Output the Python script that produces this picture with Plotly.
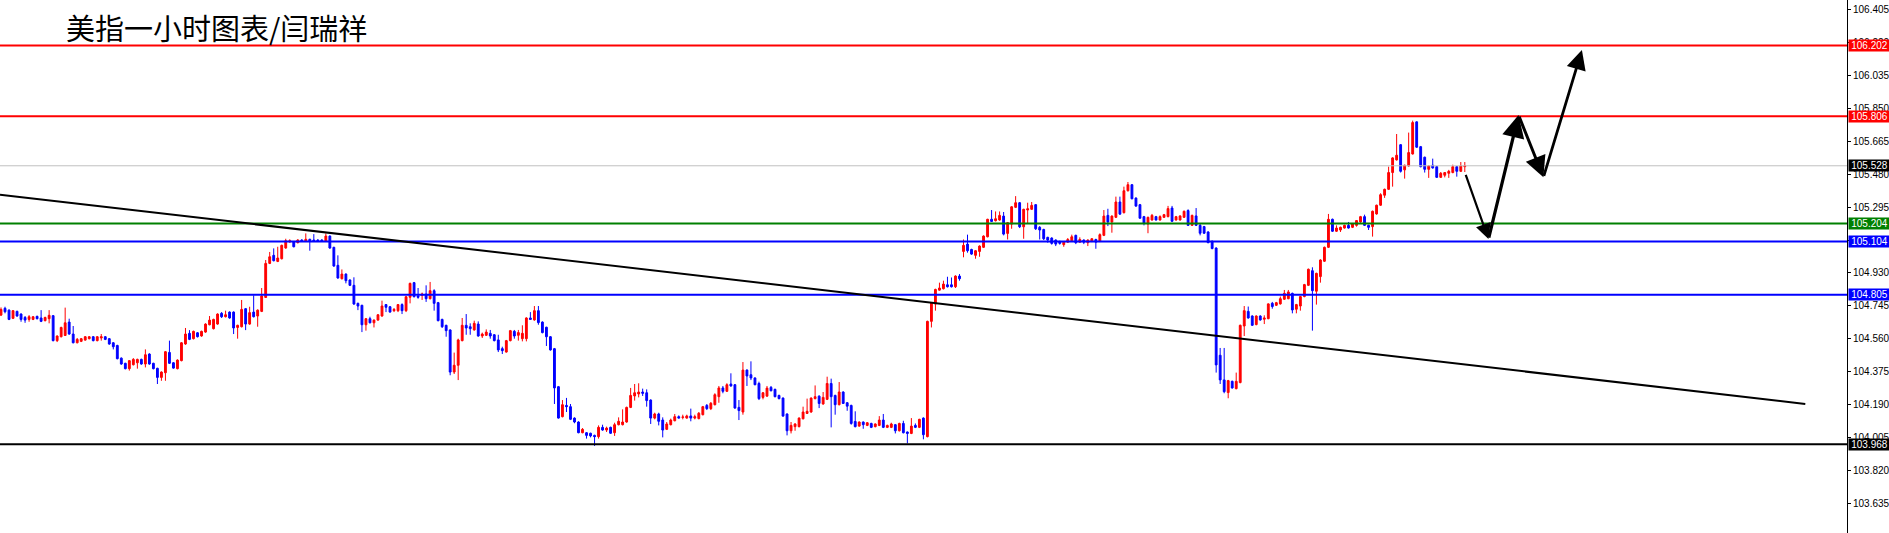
import plotly.graph_objects as go

opens = [104.691,104.729,104.719,104.673,104.712,104.697,104.678,104.667,104.667,104.684,104.675,104.660,104.671,104.688,104.548,104.570,104.577,104.652,104.585,104.536,
104.544,104.551,104.559,104.570,104.548,104.563,104.570,104.559,104.536,104.521,104.450,104.421,104.391,104.413,104.424,104.443,104.417,104.473,104.421,104.393,
104.342,104.368,104.482,104.424,104.391,104.436,104.529,104.589,104.559,104.592,104.574,104.596,104.637,104.615,104.641,104.701,104.682,104.708,104.708,104.622,
104.626,104.727,104.641,104.708,104.686,104.712,104.790,104.981,105.026,104.992,105.007,105.067,105.101,105.101,105.097,105.112,105.104,105.116,105.112,105.112,
105.112,105.104,105.134,105.071,104.970,104.895,104.921,104.888,104.858,104.757,104.746,104.637,104.671,104.648,104.663,104.686,104.750,104.738,104.716,104.716,
104.750,104.716,104.791,104.873,104.798,104.802,104.809,104.783,104.828,104.761,104.667,104.634,104.608,104.372,104.410,104.548,104.634,104.626,104.608,104.641,
104.574,104.578,104.589,104.581,104.552,104.503,104.484,104.548,104.600,104.578,104.559,104.559,104.675,104.664,104.716,104.652,104.623,104.570,104.503,104.290,
104.122,104.185,104.178,104.114,104.092,104.032,104.032,104.029,104.017,104.010,104.062,104.047,104.062,104.032,104.077,104.077,104.092,104.174,104.238,104.249,
104.260,104.256,104.215,104.114,104.137,104.103,104.051,104.077,104.099,104.122,104.118,104.114,104.126,104.114,104.111,104.133,104.185,104.167,104.189,104.234,
104.283,104.264,104.305,104.301,104.174,104.148,104.383,104.357,104.339,104.308,104.230,104.237,104.286,104.275,104.241,104.226,104.137,104.043,104.066,104.066,
104.110,104.140,104.148,104.223,104.237,104.193,104.219,104.308,104.241,104.189,104.260,104.200,104.185,104.095,104.069,104.092,104.073,104.084,104.066,104.073,
104.103,104.062,104.062,104.077,104.043,104.084,104.036,104.028,104.073,104.062,104.114,104.010,104.656,104.753,104.831,104.839,104.861,104.861,104.850,104.910,
105.048,105.089,105.059,105.026,105.048,105.071,105.130,105.228,105.220,105.224,105.246,105.149,105.201,105.295,105.321,105.186,105.280,105.284,105.310,105.183,
105.171,105.127,105.123,105.112,105.104,105.086,105.100,105.108,105.138,105.100,105.112,105.097,105.104,105.115,105.104,105.138,105.250,105.213,105.239,105.325,
105.265,105.388,105.422,105.347,105.310,105.243,105.202,105.224,105.243,105.224,105.239,105.243,105.291,105.224,105.224,105.239,105.277,105.194,105.247,105.194,
105.187,105.157,105.105,105.067,104.466,104.328,104.257,104.320,104.279,104.313,104.630,104.712,104.686,104.638,104.686,104.668,104.671,104.757,104.746,104.754,
104.780,104.783,104.813,104.724,104.742,104.795,104.858,104.940,104.825,104.907,104.993,105.071,105.228,105.161,105.168,105.179,105.194,105.183,105.194,105.213,
105.243,105.194,105.187,105.258,105.307,105.363,105.396,105.490,105.561,105.646,105.505,105.527,105.594,105.774,105.635,105.576,105.508,105.531,105.523,105.463,
105.475,105.486,105.490,105.523,105.497,105.523]

highs = [104.734,104.738,104.723,104.719,104.716,104.701,104.686,104.691,104.686,104.688,104.719,104.682,104.719,104.691,104.577,104.626,104.733,104.671,104.630,104.563,
104.563,104.574,104.574,104.574,104.574,104.585,104.574,104.563,104.540,104.525,104.454,104.424,104.439,104.450,104.447,104.447,104.499,104.477,104.424,104.396,
104.376,104.490,104.548,104.428,104.443,104.540,104.619,104.607,104.604,104.596,104.604,104.645,104.686,104.671,104.701,104.708,104.716,104.712,104.712,104.637,
104.776,104.731,104.738,104.802,104.723,104.843,105.000,105.045,105.065,105.074,105.086,105.119,105.116,105.104,105.116,105.116,105.149,105.119,105.145,105.116,
105.116,105.149,105.138,105.074,105.026,104.947,104.925,104.891,104.903,104.761,104.749,104.675,104.682,104.667,104.697,104.772,104.753,104.742,104.731,104.753,
104.757,104.798,104.873,104.877,104.843,104.817,104.858,104.877,104.836,104.765,104.671,104.637,104.611,104.481,104.559,104.675,104.697,104.645,104.660,104.656,
104.593,104.611,104.608,104.585,104.581,104.514,104.552,104.608,104.608,104.608,104.634,104.679,104.708,104.742,104.742,104.656,104.626,104.574,104.507,104.294,
104.215,104.227,104.193,104.118,104.096,104.058,104.036,104.032,104.021,104.073,104.077,104.066,104.066,104.088,104.118,104.163,104.178,104.283,104.305,104.309,
104.279,104.275,104.219,104.144,104.144,104.118,104.092,104.111,104.137,104.129,104.133,104.133,104.167,104.133,104.148,104.182,104.193,104.204,104.253,104.294,
104.294,104.309,104.365,104.305,104.215,104.428,104.387,104.432,104.342,104.318,104.260,104.294,104.294,104.279,104.245,104.230,104.140,104.092,104.085,104.118,
104.178,104.223,104.230,104.297,104.241,104.260,104.346,104.335,104.245,104.316,104.264,104.204,104.189,104.152,104.095,104.095,104.092,104.088,104.084,104.125,
104.137,104.077,104.088,104.081,104.088,104.099,104.039,104.114,104.084,104.110,104.118,104.660,104.764,104.839,104.873,104.884,104.906,104.902,104.914,104.921,
105.115,105.142,105.063,105.056,105.082,105.138,105.231,105.280,105.272,105.272,105.269,105.213,105.302,105.358,105.325,105.287,105.321,105.325,105.313,105.190,
105.175,105.130,105.127,105.115,105.108,105.104,105.123,105.142,105.142,105.127,105.115,105.115,105.123,105.119,105.149,105.280,105.287,105.250,105.355,105.355,
105.411,105.437,105.425,105.351,105.314,105.247,105.243,105.258,105.247,105.250,105.258,105.303,105.303,105.247,105.250,105.277,105.284,105.254,105.291,105.202,
105.191,105.161,105.109,105.071,104.507,104.507,104.328,104.324,104.369,104.638,104.742,104.739,104.690,104.690,104.690,104.690,104.757,104.765,104.765,104.795,
104.832,104.832,104.817,104.754,104.798,104.866,104.952,104.959,104.929,105.004,105.075,105.258,105.232,105.194,105.187,105.198,105.213,105.206,105.224,105.247,
105.254,105.198,105.277,105.310,105.374,105.400,105.523,105.576,105.706,105.650,105.534,105.714,105.781,105.777,105.639,105.579,105.531,105.568,105.527,105.493,
105.493,105.505,105.534,105.527,105.549,105.549]

lows = [104.686,104.701,104.663,104.669,104.682,104.654,104.648,104.654,104.663,104.667,104.652,104.656,104.645,104.544,104.540,104.566,104.574,104.581,104.533,104.533,
104.540,104.548,104.555,104.544,104.544,104.548,104.551,104.525,104.499,104.443,104.413,104.387,104.380,104.409,104.391,104.413,104.398,104.413,104.387,104.305,
104.323,104.323,104.417,104.391,104.387,104.432,104.525,104.551,104.555,104.566,104.570,104.592,104.634,104.611,104.637,104.675,104.678,104.671,104.585,104.559,
104.622,104.607,104.637,104.678,104.626,104.708,104.787,104.977,104.992,104.988,105.003,105.063,105.097,105.071,105.093,105.101,105.101,105.052,105.101,105.101,
105.101,105.101,105.063,104.962,104.895,104.891,104.869,104.854,104.749,104.719,104.596,104.604,104.645,104.622,104.660,104.682,104.708,104.705,104.708,104.708,
104.697,104.708,104.757,104.791,104.783,104.776,104.765,104.779,104.716,104.656,104.619,104.570,104.354,104.361,104.327,104.544,104.581,104.581,104.604,104.570,
104.563,104.574,104.559,104.544,104.484,104.473,104.481,104.544,104.559,104.548,104.544,104.544,104.664,104.660,104.637,104.589,104.518,104.492,104.193,104.111,
104.118,104.148,104.103,104.085,104.029,104.029,103.999,104.006,103.958,103.999,104.043,104.036,104.025,104.014,104.073,104.073,104.088,104.170,104.212,104.230,
104.238,104.178,104.081,104.107,104.073,104.006,104.047,104.073,104.096,104.111,104.107,104.111,104.096,104.107,104.107,104.129,104.159,104.159,104.185,104.200,
104.253,104.260,104.290,104.167,104.103,104.133,104.294,104.327,104.298,104.215,104.219,104.234,104.264,104.230,104.219,104.122,104.017,104.028,104.043,104.062,
104.107,104.137,104.144,104.219,104.170,104.189,104.215,104.062,104.133,104.185,104.193,104.155,104.077,104.062,104.066,104.054,104.069,104.058,104.062,104.069,
104.058,104.058,104.058,104.028,104.039,104.028,103.972,104.024,104.058,104.058,103.995,104.006,104.622,104.716,104.828,104.835,104.846,104.846,104.843,104.884,
105.015,105.041,105.029,105.007,105.018,105.067,105.127,105.213,105.216,105.220,105.138,105.115,105.175,105.291,105.179,105.119,105.205,105.280,105.168,105.115,
105.112,105.097,105.086,105.078,105.086,105.074,105.097,105.104,105.089,105.097,105.089,105.078,105.100,105.063,105.100,105.134,105.190,105.153,105.235,105.254,
105.261,105.384,105.340,105.298,105.232,105.194,105.150,105.221,105.221,105.221,105.236,105.239,105.213,105.221,105.221,105.236,105.191,105.191,105.191,105.138,
105.146,105.094,105.060,104.369,104.305,104.253,104.225,104.279,104.275,104.309,104.574,104.671,104.630,104.634,104.660,104.641,104.668,104.727,104.742,104.750,
104.776,104.780,104.701,104.701,104.716,104.791,104.854,104.604,104.750,104.873,104.989,105.067,105.157,105.157,105.157,105.176,105.176,105.179,105.187,105.209,
105.191,105.168,105.131,105.254,105.303,105.348,105.392,105.411,105.557,105.490,105.456,105.523,105.591,105.628,105.519,105.490,105.460,105.512,105.460,105.460,
105.463,105.460,105.486,105.467,105.493,105.493]

closes = [104.723,104.710,104.667,104.716,104.686,104.667,104.663,104.682,104.682,104.671,104.656,104.678,104.690,104.548,104.574,104.622,104.648,104.585,104.536,104.555,
104.559,104.570,104.570,104.548,104.570,104.570,104.555,104.529,104.514,104.447,104.417,104.391,104.436,104.443,104.443,104.417,104.469,104.417,104.391,104.342,
104.372,104.486,104.421,104.394,104.439,104.536,104.585,104.555,104.600,104.570,104.600,104.641,104.663,104.667,104.697,104.682,104.693,104.675,104.619,104.634,
104.723,104.641,104.705,104.682,104.719,104.798,104.981,105.018,104.996,105.011,105.082,105.108,105.108,105.074,105.112,105.104,105.116,105.104,105.104,105.104,
105.104,105.134,105.067,104.966,104.899,104.921,104.884,104.858,104.753,104.742,104.637,104.671,104.648,104.663,104.693,104.742,104.735,104.708,104.723,104.750,
104.716,104.794,104.869,104.794,104.791,104.809,104.783,104.828,104.757,104.660,104.626,104.604,104.372,104.410,104.552,104.634,104.619,104.615,104.645,104.574,
104.585,104.596,104.574,104.548,104.496,104.492,104.548,104.604,104.574,104.593,104.589,104.675,104.667,104.716,104.649,104.593,104.570,104.496,104.283,104.114,
104.189,104.178,104.107,104.092,104.032,104.051,104.017,104.014,104.010,104.062,104.047,104.058,104.029,104.077,104.096,104.092,104.174,104.241,104.256,104.260,
104.253,104.212,104.114,104.137,104.096,104.047,104.081,104.103,104.122,104.114,104.120,104.126,104.114,104.122,104.141,104.178,104.167,104.197,104.245,104.283,
104.264,104.301,104.294,104.170,104.156,104.383,104.350,104.339,104.301,104.223,104.256,104.282,104.267,104.234,104.223,104.125,104.043,104.073,104.081,104.114,
104.148,104.152,104.226,104.234,104.196,104.230,104.308,104.234,104.189,104.260,104.196,104.181,104.084,104.066,104.092,104.077,104.088,104.062,104.081,104.103,
104.062,104.073,104.081,104.043,104.084,104.032,104.028,104.069,104.062,104.107,104.021,104.656,104.761,104.835,104.843,104.865,104.850,104.850,104.910,104.895,
105.082,105.052,105.033,105.052,105.078,105.134,105.228,105.216,105.231,105.250,105.145,105.209,105.298,105.321,105.186,105.284,105.287,105.306,105.175,105.168,
105.119,105.112,105.093,105.089,105.093,105.100,105.115,105.130,105.097,105.115,105.100,105.112,105.119,105.100,105.142,105.246,105.213,105.246,105.325,105.257,
105.388,105.422,105.343,105.302,105.234,105.206,105.239,105.250,105.224,105.243,105.254,105.288,105.217,105.243,105.247,105.273,105.194,105.250,105.194,105.150,
105.150,105.097,105.064,104.412,104.328,104.262,104.324,104.283,104.320,104.634,104.716,104.675,104.634,104.686,104.664,104.675,104.754,104.739,104.761,104.783,
104.813,104.821,104.720,104.750,104.795,104.862,104.948,104.828,104.925,105.000,105.071,105.228,105.161,105.179,105.183,105.194,105.179,105.202,105.221,105.243,
105.194,105.183,105.273,105.307,105.366,105.396,105.490,105.572,105.587,105.497,105.531,105.602,105.770,105.632,105.523,105.508,105.527,105.516,105.463,105.486,
105.490,105.497,105.523,105.497,105.527,105.527]

# horizontal levels drawn on the chart
level_values = [106.202, 105.806, 105.204, 105.104, 104.805, 103.968]
level_colors = ["#FF0000", "#FF0000", "#008000", "#0000FF", "#0000FF", "#000000"]
bid_price = 105.528

# descending trend line (bar index, price)
trend_x = [-0.25, 449.9]
trend_y = [105.366, 104.193]

# projected path arrows (bar index, price)
arrow_x = [365.1, 370.9, 378.4, 384.6, 394.2]
arrow_y = [105.486, 105.117, 105.812, 105.463, 106.177]
arrow_widths = [2.2, 3.2, 3, 2.8]

# right axis ticks
tick_vals = [106.405, 106.220, 106.035, 105.850, 105.665, 105.480, 105.295, 105.110,
             104.930, 104.745, 104.560, 104.375, 104.190, 104.005, 103.820, 103.635]
tick_text = ["106.405", "106.220", "106.035", "105.850", "105.665", "105.480", "105.295", "105.110",
             "104.930", "104.745", "104.560", "104.375", "104.190", "104.005", "103.820", "103.635"]

title_text = "美指一小时图表/闫瑞祥"

bars = list(range(len(closes)))

fig = go.Figure()
fig.add_trace(go.Candlestick(
    x=bars, open=opens, high=highs, low=lows, close=closes,
    increasing=dict(line=dict(color="#FF0000", width=1), fillcolor="#FF0000"),
    decreasing=dict(line=dict(color="#0000FF", width=1), fillcolor="#0000FF"),
    whiskerwidth=0, showlegend=False, hoverinfo="skip",
))

shapes = []
# bid line
shapes.append(dict(type="line", xref="paper", x0=0, x1=1, yref="y", y0=bid_price, y1=bid_price,
                   line=dict(color="#C0C0C0", width=1), layer="above"))
for v, c in zip(level_values, level_colors):
    shapes.append(dict(type="line", xref="paper", x0=0, x1=1, yref="y", y0=v, y1=v,
                       line=dict(color=c, width=2), layer="above"))
shapes.append(dict(type="line", xref="x", yref="y", x0=trend_x[0], y0=trend_y[0], x1=trend_x[1], y1=trend_y[1],
                   line=dict(color="#000000", width=2), layer="above"))

annotations = []
annotations.append(dict(text=title_text, xref="paper", yref="paper", x=64/1847, y=1 - 27/533,
                        xanchor="left", yanchor="middle", showarrow=False,
                        font=dict(family="Noto Sans CJK SC", size=29, color="#000000")))

label_vals = level_values + [bid_price]
label_cols = level_colors + ["#000000"]
for v, c in zip(label_vals, label_cols):
    annotations.append(dict(text="%.3f" % v, xref="paper", yref="y", x=1, y=v, xanchor="left", yanchor="middle",
                            xshift=1, showarrow=False, bgcolor=c, borderpad=0, width=41, height=11,
                            font=dict(family="Liberation Sans", size=10, color="#FFFFFF")))

for k in range(len(arrow_x) - 1):
    annotations.append(dict(text="", x=arrow_x[k+1], y=arrow_y[k+1], ax=arrow_x[k], ay=arrow_y[k],
                            xref="x", yref="y", axref="x", ayref="y", showarrow=True,
                            arrowhead=2, arrowsize=1.4, arrowwidth=arrow_widths[k], arrowcolor="#000000",
                            standoff=0, startstandoff=0))

fig.update_layout(
    width=1889, height=533,
    margin=dict(l=0, r=42, t=0, b=0),
    paper_bgcolor="#FFFFFF", plot_bgcolor="#FFFFFF",
    shapes=shapes, annotations=annotations,
    boxgap=0.35,
    xaxis=dict(range=[-0.25, 460.3], showgrid=False, zeroline=False, showticklabels=False,
               showline=False, ticks="", rangeslider=dict(visible=False), fixedrange=True),
    yaxis=dict(side="right", range=[103.470, 106.457], showgrid=False, zeroline=False,
               tickvals=tick_vals, ticktext=tick_text, ticks="outside", ticklen=3, tickcolor="#000000",
               showline=True, linecolor="#000000", linewidth=1, fixedrange=True,
               tickfont=dict(family="Liberation Sans", size=10, color="#000000")),
)

fig.write_html("out.html", config={"displayModeBar": False},
               post_script="document.body.style.margin='0';document.body.style.padding='0';"
                           "document.documentElement.style.overflow='hidden';document.body.style.overflow='hidden';")
